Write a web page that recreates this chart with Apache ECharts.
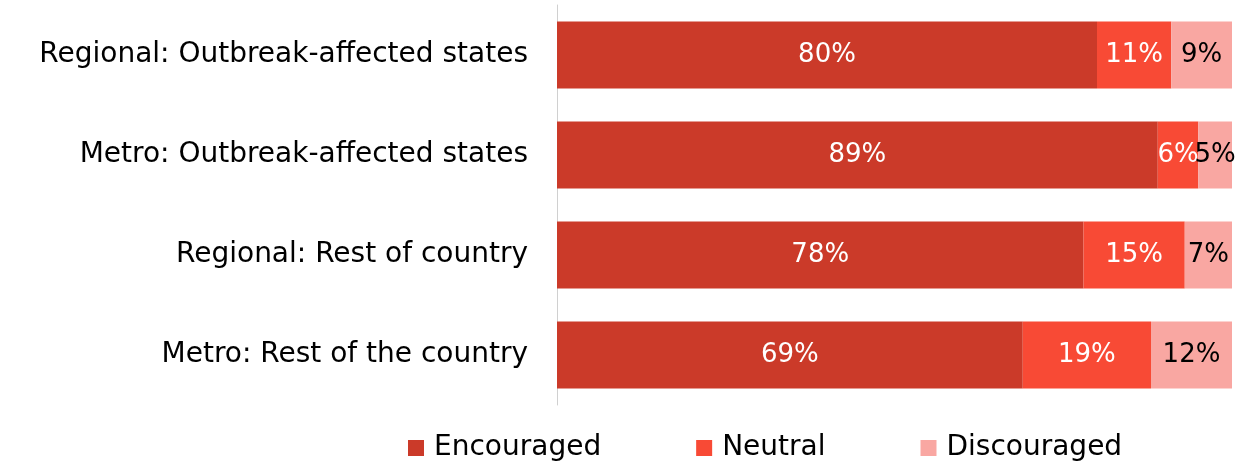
<!DOCTYPE html>
<html><head><meta charset="utf-8">
<script src="https://cdn.jsdelivr.net/npm/echarts@6/dist/echarts.min.js"></script>
<style>html,body{margin:0;padding:0;background:#fff}#c{width:1242px;height:465px}</style>
</head><body><div id="c"></div>
<script>
const categories = ["Regional: Outbreak-affected states","Metro: Outbreak-affected states","Regional: Rest of country","Metro: Rest of the country"];
const encouraged = [80, 89, 78, 69];
const neutral = [11, 6, 15, 19];
const discouraged = [9, 5, 7, 12];
const FONT = "DejaVu Sans";
const chart = echarts.init(document.getElementById('c'));
function lbl(color){return {show:true,position:'inside',formatter:'{c}%',color:color,fontSize:26,fontFamily:FONT};}
chart.setOption({
  animation:false,
  grid:{left:557,right:10,top:5,bottom:60},
  xAxis:{type:'value',min:0,max:100,show:false},
  yAxis:{type:'category',data:categories,inverse:true,
    axisLine:{show:true,lineStyle:{color:'#d0d0d0',width:1}},
    axisTick:{show:false},
    axisLabel:{fontSize:28,fontFamily:FONT,color:'#000',margin:29}},
  legend:{top:429,left:403,itemWidth:16,itemHeight:16,itemGap:95,icon:'rect',
    textStyle:{fontSize:28,fontFamily:FONT,color:'#000',padding:[0,0,0,5]}},
  series:[
    {name:'Encouraged',type:'bar',stack:'a',data:encouraged,barWidth:'67%',itemStyle:{color:'#CB3A29'},label:lbl('#fff')},
    {name:'Neutral',type:'bar',stack:'a',data:neutral,itemStyle:{color:'#F84A35'},label:lbl('#fff')},
    {name:'Discouraged',type:'bar',stack:'a',data:discouraged,itemStyle:{color:'#F9A7A2'},label:lbl('#000')}
  ]
});
</script></body></html>
